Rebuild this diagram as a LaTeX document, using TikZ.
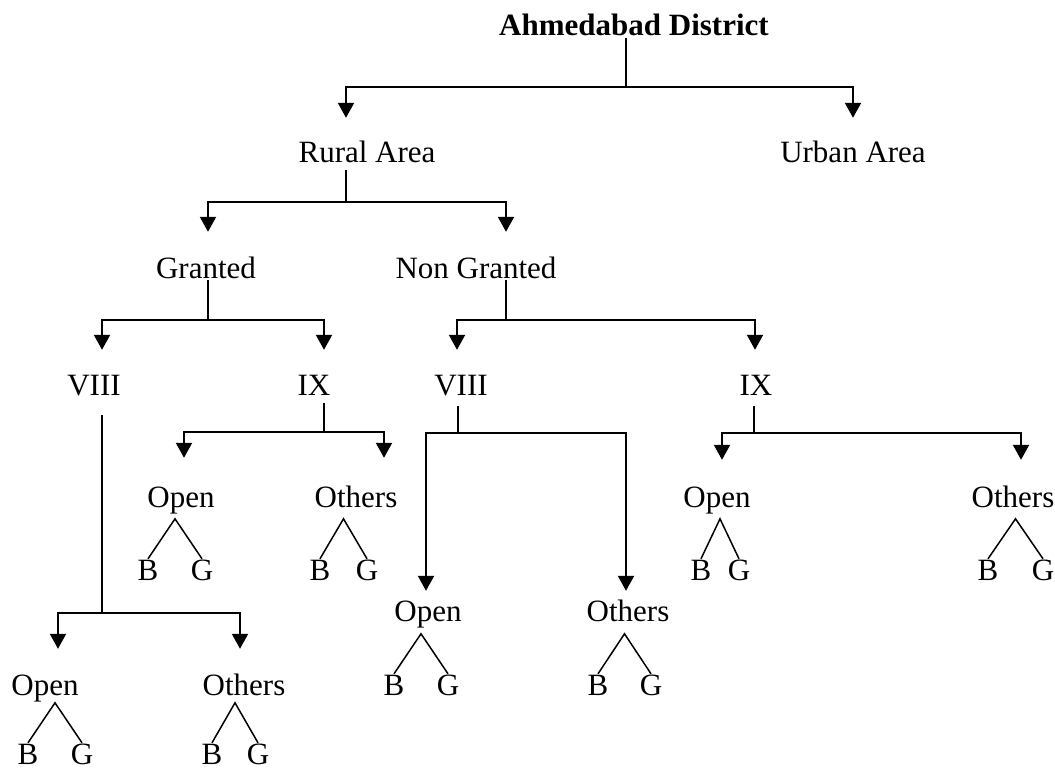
\documentclass[tikz,border=0pt]{standalone}
\usepackage{fontspec}
\setmainfont{Liberation Serif}
\usetikzlibrary{arrows.meta, calc}

\begin{document}
\begin{tikzpicture}[
  x=1pt, y=-1pt,
  lbl/.style={font=\fontsize{31}{36}\selectfont, inner sep=0pt,
              text height=21pt, text depth=0pt, anchor=base},
  head/.style={lbl, font=\fontsize{31}{36}\selectfont\bfseries},
  cat/.style={lbl, text depth=11pt},
  arr/.style={-{Triangle[length=15pt, width=16pt]}, line width=2pt,
              shorten >=25pt},
  stem/.style={line width=2pt, shorten <=8pt},
  vee/.style={line width=1.5pt},
]
  \useasboundingbox (0,0) rectangle (1055,769);

  \node[head] (title) at (634,35) {Ahmedabad District};

  \node[lbl] (rural) at (367,162) {Rural Area};
  \node[lbl] (urban) at (853,162) {Urban Area};

  \node[lbl] (gr) at (206,278) {Granted};
  \node[lbl] (ng) at (476,278) {Non Granted};

  \node[lbl] (g8) at (94,395)  {VIII};
  \node[lbl] (g9) at (314,395) {IX};
  \node[lbl] (n8) at (461,395) {VIII};
  \node[lbl] (n9) at (756,395) {IX};

  % Open / Others with their B and G
  \node[cat] (g9o) at (181,507) {Open};
  \node[lbl] (g9o-b) at (148,580) {B};
  \node[lbl] (g9o-g) at (202,580) {G};
  \node[cat] (g9t) at (356,507) {Others};
  \node[lbl] (g9t-b) at (320,580) {B};
  \node[lbl] (g9t-g) at (367,580) {G};

  \node[cat] (g8o) at (45,695) {Open};
  \node[lbl] (g8o-b) at (28,764) {B};
  \node[lbl] (g8o-g) at (82,764) {G};
  \node[cat] (g8t) at (244,695) {Others};
  \node[lbl] (g8t-b) at (212,764) {B};
  \node[lbl] (g8t-g) at (258,764) {G};

  \node[cat] (n8o) at (428,621) {Open};
  \node[lbl] (n8o-b) at (394,695) {B};
  \node[lbl] (n8o-g) at (448,695) {G};
  \node[cat] (n8t) at (628,621) {Others};
  \node[lbl] (n8t-b) at (598,695) {B};
  \node[lbl] (n8t-g) at (651,695) {G};

  \node[cat] (n9o) at (717,507) {Open};
  \node[lbl] (n9o-b) at (701,580) {B};
  \node[lbl] (n9o-g) at (739,580) {G};
  \node[cat] (n9t) at (1013,507) {Others};
  \node[lbl] (n9t-b) at (988,580) {B};
  \node[lbl] (n9t-g) at (1043,580) {G};

  % forks
  \draw[stem, shorten <=3pt] ([xshift=-8pt]title.south) -- ++(0,52) coordinate (tj);
  \draw[arr, shorten >=23pt] (tj) -| ([xshift=-21pt]rural.north);
  \draw[arr, shorten >=23pt] (tj) -| (urban.north);

  \draw[stem] ([xshift=-21pt]rural.south) -- ++(0,40) coordinate (rj);
  \draw[arr] (rj) -| ([xshift=2pt]gr.north);
  \draw[arr] (rj) -| ([xshift=30pt]ng.north);

  \draw[stem, shorten <=2pt] ([xshift=2pt]gr.south) -- ++(0,42) coordinate (grj);
  \draw[arr, shorten >=24pt] (grj) -| ([xshift=8pt]g8.north);
  \draw[arr, shorten >=24pt] (grj) -| ([xshift=10pt]g9.north);

  \draw[stem, shorten <=2pt] ([xshift=30pt]ng.south) -- ++(0,42) coordinate (ngj);
  \draw[arr, shorten >=24pt] (ngj) -| ([xshift=-4pt]n8.north);
  \draw[arr, shorten >=24pt] (ngj) -| ([xshift=-1pt]n9.north);

  \draw[stem, shorten <=20pt] ([xshift=8pt]g8.south) -- ++(0,218) coordinate (g8j);
  \draw[arr] (g8j) -| ([xshift=13pt]g8o.north);
  \draw[arr] (g8j) -| ([xshift=-4pt]g8t.north);

  \draw[stem] ([xshift=10pt]g9.south) -- ++(0,37) coordinate (g9j);
  \draw[arr, shorten >=28pt] (g9j) -| ([xshift=3pt]g9o.north);
  \draw[arr, shorten >=28pt] (g9j) -| ([xshift=28pt]g9t.north);

  \draw[stem, shorten <=11pt] ([xshift=-3pt]n8.south) -- ++(0,38) coordinate (n8j);
  \draw[arr, shorten >=9pt] (n8j) -| ([xshift=-2pt]n8o.north);
  \draw[arr, shorten >=9pt] (n8j) -| ([xshift=-2pt]n8t.north);

  \draw[stem, shorten <=11pt] ([xshift=-2pt]n9.south) -- ++(0,38) coordinate (n9j);
  \draw[arr, shorten >=26pt] (n9j) -| ([xshift=5pt]n9o.north);
  \draw[arr, shorten >=26pt] (n9j) -| ([xshift=8pt]n9t.north);

  % B / G splits
  \draw[vee] (g9o-b.north) -- ($(g9o-b.north)!.5!(g9o-g.north)+(0,-40)$) -- (g9o-g.north);
  \draw[vee] (g9t-b.north) -- ($(g9t-b.north)!.5!(g9t-g.north)+(0,-40)$) -- (g9t-g.north);
  \draw[vee] (g8o-b.north) -- ($(g8o-b.north)!.5!(g8o-g.north)+(0,-40)$) -- (g8o-g.north);
  \draw[vee] (g8t-b.north) -- ($(g8t-b.north)!.5!(g8t-g.north)+(0,-40)$) -- (g8t-g.north);
  \draw[vee] (n8o-b.north) -- ($(n8o-b.north)!.5!(n8o-g.north)+(0,-40)$) -- (n8o-g.north);
  \draw[vee] (n8t-b.north) -- ($(n8t-b.north)!.5!(n8t-g.north)+(0,-40)$) -- (n8t-g.north);
  \draw[vee] (n9o-b.north) -- ($(n9o-b.north)!.5!(n9o-g.north)+(0,-40)$) -- (n9o-g.north);
  \draw[vee] (n9t-b.north) -- ($(n9t-b.north)!.5!(n9t-g.north)+(0,-40)$) -- (n9t-g.north);
\end{tikzpicture}
\end{document}
